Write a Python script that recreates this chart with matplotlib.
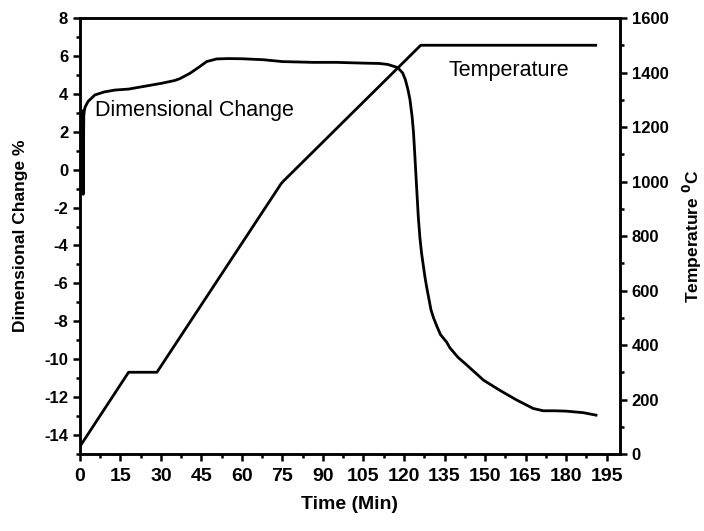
import numpy as np
import matplotlib
matplotlib.use('Agg')
import matplotlib.pyplot as plt

plt.rcParams['font.family'] = ['Liberation Sans', 'DejaVu Sans']
plt.rcParams['axes.unicode_minus'] = False

# Temperature programme (min, degC)
temp_time = [0, 18, 28.5, 74.5, 75.5, 126.2, 191]
temp_val = [28, 300, 300, 992, 1003, 1500, 1500]

# Dimensional change (min, %)
dim_time = [1.0, 1.1, 1.2, 1.3, 1.4, 1.6, 1.9, 3, 5.5, 9, 13, 18, 22.8, 30, 35, 37, 40.7,
            44, 46.9, 50.6, 55, 60, 67.8, 75, 86.4, 95, 104.8, 111, 114, 117.3, 118.5,
            119.5, 120.5, 121.5, 122.2, 123, 123.5, 124, 124.7, 125.3, 125.9, 126.5,
            127.1, 127.8, 128.4, 129.2, 130, 130.9, 132, 133.5, 135.8, 137, 140,
            143.2, 149.4, 155.6, 161.7, 167.9, 171.6, 176, 180.2, 186.4, 191.1]
dim_val = [3.1, 1.0, -1.3, 0.5, 2.8, 3.1, 3.3, 3.6, 3.94, 4.1, 4.2, 4.25, 4.37, 4.55, 4.7,
           4.8, 5.08, 5.4, 5.7, 5.84, 5.86, 5.85, 5.8, 5.7, 5.66, 5.66, 5.62, 5.6, 5.55,
           5.4, 5.26,
           5.1, 4.75, 4.2, 3.7, 2.8, 2.0, 0.8, -1.0, -2.5, -3.6, -4.4,
           -5.0, -5.7, -6.2, -6.8, -7.4, -7.8, -8.2, -8.7, -9.1, -9.4, -9.9,
           -10.3, -11.1, -11.65, -12.15, -12.6, -12.72, -12.72, -12.74, -12.82, -12.95]

fig = plt.figure(figsize=(7.04, 5.31), dpi=100)
ax = fig.add_axes([0.1136, 0.145, 0.7671, 0.8211])
ax2 = ax.twinx()

lw = 2.0
ax.plot(dim_time, dim_val, color='black', lw=lw)
ax2.plot(temp_time, temp_val, color='black', lw=lw)

ax.set_xlim(0, 200)
ax.set_ylim(-15, 8)
ax2.set_ylim(0, 1600)

ax.set_xticks(np.arange(0, 196, 15))
ax.set_xticks(np.arange(7.5, 200, 15), minor=True)
ax.set_yticks(np.arange(-14, 9, 2))
ax.set_yticks(np.arange(-15, 8, 2), minor=True)
ax2.set_yticks(np.arange(0, 1601, 200))
ax2.set_yticks(np.arange(100, 1600, 200), minor=True)

for a in (ax, ax2):
    for s in a.spines.values():
        s.set_linewidth(1.8)
    a.tick_params(which='major', direction='out', length=5, width=1.8,
                  labelsize=12)
    a.tick_params(which='minor', direction='out', length=3, width=1.8)
ax.tick_params(axis='x', which='major', labelsize=14, pad=5)
for a in (ax, ax2):
    for lab in a.get_xticklabels() + a.get_yticklabels():
        lab.set_fontweight('bold')

ax.set_xlabel('Time (Min)', fontsize=14, fontweight='bold', labelpad=8)
ax.set_ylabel('Dimensional Change %', fontsize=12.5, fontweight='bold', labelpad=12)
ax2.set_ylabel(r'Temperature $^{\mathbf{0}}$C', fontsize=12.5, fontweight='bold', labelpad=9)

ax.text(5.5, 3.1, 'Dimensional Change', fontsize=15.5, va='center', ha='left')
ax2.text(136.3, 1409, 'Temperature', fontsize=15.5, va='center', ha='left')

fig.savefig('out.png', dpi=100)
